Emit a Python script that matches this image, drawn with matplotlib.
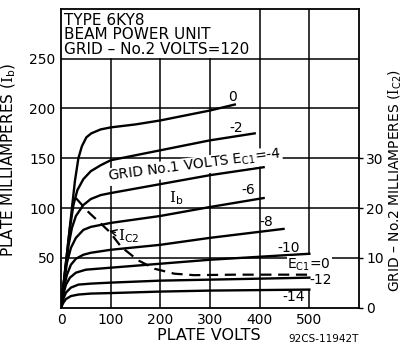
import matplotlib
matplotlib.use("Agg")
import matplotlib.pyplot as plt

plt.rcParams['font.family'] = ['DejaVu Sans']
plt.rcParams['mathtext.fontset'] = 'custom'
plt.rcParams['mathtext.rm'] = 'DejaVu Serif'
plt.rcParams['mathtext.sf'] = 'DejaVu Sans'

# plate characteristics, one curve per grid-No.1 voltage (plate volts, plate mA)
ec1_0_v = [0, 15, 28, 35, 42, 51, 61, 80, 100, 150, 200, 250, 300, 350]
ec1_0_ma = [0, 68, 127, 150, 162, 171, 175, 179, 181, 184, 188, 193, 198, 204]
ec1_m2_v = [0, 10, 18, 25, 33, 45, 60, 80, 100, 150, 200, 300, 390]
ec1_m2_ma = [0, 45, 80, 103, 118, 129, 137, 143, 148, 153, 158, 168, 175]
ec1_m4_v = [0, 8, 15, 22, 30, 45, 60, 80, 100, 200, 300, 408]
ec1_m4_ma = [0, 35, 62, 80, 92, 103, 109, 113, 115, 124, 133, 141]
ec1_m6_v = [0, 6, 12, 20, 30, 45, 60, 100, 200, 300, 408]
ec1_m6_ma = [0, 25, 45, 60, 70, 78, 81, 85, 92, 101, 110]
ec1_m8_v = [0, 6, 12, 20, 30, 45, 60, 100, 200, 300, 448]
ec1_m8_ma = [0, 20, 33, 43, 49, 53, 55, 58, 63, 70, 79]
ec1_m10_v = [0, 5, 10, 18, 30, 50, 100, 200, 300, 500]
ec1_m10_ma = [0, 14, 23, 30, 35, 38, 40, 44, 48, 54]
ec1_m12_v = [0, 5, 10, 20, 35, 60, 100, 200, 300, 500]
ec1_m12_ma = [0, 9, 15, 20, 23, 24, 25, 27, 28, 30]
ec1_m14_v = [0, 5, 10, 20, 35, 60, 100, 200, 300, 500]
ec1_m14_ma = [0, 5, 8.5, 11.5, 13, 14, 14.5, 16, 17, 18]

# grid-No.2 current at Ec1 = 0 (plate volts, grid-No.2 mA)
ic2_v = [30, 55, 98, 121, 155, 188, 228, 268, 350, 500]
ic2_ma = [22, 19.2, 15.2, 12.2, 9.5, 7.8, 6.8, 6.5, 6.6, 6.6]

curves = [
    (ec1_0_v, ec1_0_ma, "0", 346, 212),
    (ec1_m2_v, ec1_m2_ma, "-2", 352, 180),
    (ec1_m4_v, ec1_m4_ma, None, 0, 0),
    (ec1_m6_v, ec1_m6_ma, "-6", 378, 118),
    (ec1_m8_v, ec1_m8_ma, "-8", 414, 86),
    (ec1_m10_v, ec1_m10_ma, "-10", 458, 60),
    (ec1_m12_v, ec1_m12_ma, "-12", 522, 28),
    (ec1_m14_v, ec1_m14_ma, "-14", 468, 11),
]

x_ticks = [0, 100, 200, 300, 400, 500]
y_ticks = [50, 100, 150, 200, 250]
y2_ticks = [0, 10, 20, 30]

fig = plt.figure(figsize=(4.04, 3.45), dpi=100)
ax = fig.add_axes([61/404, 37.5/345, 298/404, 298.5/345])
ax.set_xlim(0, 600)
ax.set_ylim(0, 300)

# grid: title box occupies 0-300 V above 250 mA
for v in [100, 200, 300]:
    ax.plot([v, v], [0, 250], color='black', lw=1.1, zorder=1)
ax.plot([400, 400], [0, 300], color='black', lw=1.1, zorder=1)
ax.plot([500, 500], [0, 17.5], color='black', lw=1.1, zorder=1)
ax.plot([500, 500], [54, 300], color='black', lw=1.1, zorder=1)
for i in y_ticks:
    ax.plot([0, 600], [i, i], color='black', lw=1.1, zorder=1)

for v, ma, lab, lx, ly in curves:
    ax.plot(v, ma, color='black', lw=1.7, zorder=3)
    if lab:
        ax.text(lx, ly, lab, fontsize=10, ha='center', va='center', zorder=4)

ax.text(96, 127, r'GRID No.1 VOLTS E$_{\mathsf{C1}}$=-4', fontsize=10,
        rotation=7.5, rotation_mode='anchor', ha='left', va='baseline', zorder=4,
        bbox=dict(facecolor='white', edgecolor='none', pad=0.5))
ax.text(232, 110, r'$\mathrm{I}_{\mathsf{b}}$', fontsize=11, ha='center', va='center', zorder=4)
ax.text(500, 43, r'E$_{\mathsf{C1}}$=0', fontsize=10, ha='center', va='center', zorder=4,
        bbox=dict(facecolor='white', edgecolor='none', pad=0.5))
ax.annotate(r'$\mathrm{I}_{\mathsf{C2}}$', xy=(97, 77), xytext=(115, 72), fontsize=11,
            ha='left', va='center', zorder=4,
            arrowprops=dict(arrowstyle='->', color='black', lw=1.0, shrinkA=0, shrinkB=0))

ax.text(6, 288, "TYPE 6KY8", fontsize=11, va='center')
ax.text(6, 274, "BEAM POWER UNIT", fontsize=11, va='center')
ax.text(6, 259, "GRID \u2013 No.2 VOLTS=120", fontsize=11, va='center')

ax.set_xticks(x_ticks)
ax.set_yticks(y_ticks)
ax.tick_params(length=0, labelsize=10, pad=4)
for s in ax.spines.values():
    s.set_linewidth(1.3)

ax2 = ax.twinx()
ax2.set_ylim(0, 60)
ax2.plot(ic2_v, ic2_ma, color='black', lw=1.6, dashes=(5, 3), zorder=3)
ax2.set_yticks(y2_ticks)
ax2.tick_params(length=3, width=1, labelsize=10, pad=2)
for s in ax2.spines.values():
    s.set_visible(False)

fig.text(9/404, 1 - 160/345, r'PLATE MILLIAMPERES ($\mathrm{I}_{\mathsf{b}}$)', rotation=90,
         fontsize=11, ha='center', va='center')
fig.text(395/404, 1 - 180/345, 'GRID \u2013 No.2 MILLIAMPERES ($\\mathrm{I}_{\\mathsf{C2}}$)',
         rotation=90, fontsize=10, ha='center', va='center')
fig.text(209/404, 1 - 335/345, "PLATE VOLTS", fontsize=11.5, ha='center', va='center')
fig.text(324/404, 1 - 339/345, "92CS-11942T", fontsize=7.5, ha='center', va='center')

fig.savefig("out.png", dpi=100)
